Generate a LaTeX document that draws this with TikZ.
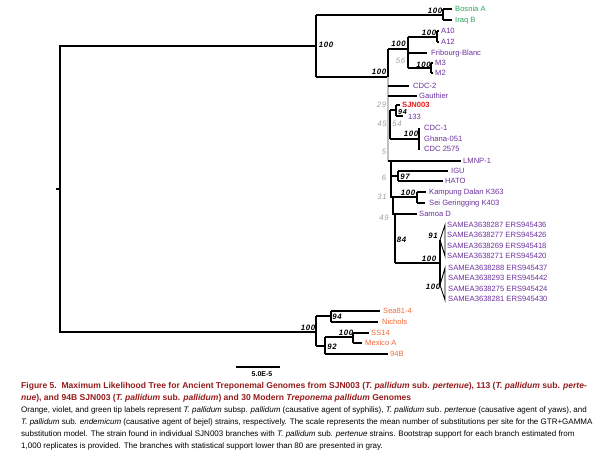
\documentclass[tikz,border=0pt]{standalone}
\usepackage{fontspec}
\setmainfont{Liberation Sans}
\newfontfamily\bsfont[LetterSpace=8]{Liberation Sans}
\definecolor{vio}{RGB}{108,48,158}
\definecolor{grn}{RGB}{40,165,90}
\definecolor{org}{RGB}{242,105,56}
\definecolor{sjn}{RGB}{228,26,28}
\definecolor{ttl}{RGB}{150,28,28}
\definecolor{sup}{RGB}{160,160,160}
\begin{document}
\begin{tikzpicture}[x=1pt,y=-1pt,
  br/.style={line width=1.3pt},
  gbr/.style={line width=1.5pt,draw=gray!50},
  wedge/.style={line width=0.9pt},
  leaf/.style={anchor=west,inner sep=0pt,font=\fontsize{7.6}{8}\selectfont,text height=5.4pt,text depth=0pt},
  lv/.style={leaf,text=vio},
  lg/.style={leaf,text=grn},
  lo/.style={leaf,text=org},
  lr/.style={leaf,text=sjn,font=\fontsize{7.6}{8}\selectfont\bfseries},
  bs/.style={inner sep=0pt,font=\bsfont\fontsize{7.8}{8}\selectfont\bfseries\itshape,text height=5.4pt,text depth=0pt},
  gs/.style={inner sep=0pt,font=\bsfont\fontsize{7.8}{8}\selectfont\itshape,text=sup,text height=5.4pt,text depth=0pt},
  captxt/.style={anchor=base west,inner sep=0pt,font=\fontsize{8}{9}\selectfont},
  ttlst/.style={captxt,text=ttl,font=\fontsize{8.55}{9}\selectfont\bfseries}]
\useasboundingbox (0,0) rectangle (600,466);
% ---------- internal node coordinates ----------
\coordinate (stub) at (56,189);
\coordinate (R) at (60,189);
\coordinate (A) at (316,46);
\coordinate (B) at (443,15);
\coordinate (C) at (388,77);
\coordinate (D) at (408,49);
\coordinate (A10n) at (437,37);
\coordinate (M3n) at (431,68);
\coordinate (SJn) at (396,110);
\coordinate (CDCn) at (419,139);
\coordinate (IGn) at (398,176);
\coordinate (KPn) at (417,197);
\coordinate (SAn) at (440,263);
\coordinate (O) at (316,332);
\coordinate (O94) at (331,316);
\coordinate (O92) at (325,346);
\coordinate (OSS) at (353,337);
% ---------- leaf labels ----------
\node[lg] (bos) at (455,9) {Bosnia A};
\node[lg] (irq) at (455,20) {Iraq B};
\node[lv] (a10) at (441,31) {A10};
\node[lv] (a12) at (441,42) {A12};
\node[lv] (fri) at (431,53) {Fribourg-Blanc};
\node[lv] (m3) at (435,63) {M3};
\node[lv] (m2) at (435,73) {M2};
\node[lv] (cdc2) at (413,86) {CDC-2};
\node[lv] (gau) at (419,96) {Gauthier};
\node[lr] (sjn) at (402,104.5) {SJN003};
\node[lv] (s133) at (408,117) {133};
\node[lv] (cdc1) at (424,128) {CDC-1};
\node[lv] (gha) at (424,139) {Ghana-051};
\node[lv] (cdc25) at (424,149) {CDC 2575};
\node[lv] (lmnp) at (463,161) {LMNP-1};
\node[lv] (igu) at (451,171) {IGU};
\node[lv] (hato) at (445,181) {HATO};
\node[lv] (kam) at (429,192) {Kampung Dalan K363};
\node[lv] (sei) at (429,203) {Sei Geringging K403};
\node[lv] (sam) at (419,214) {Samoa D};
\node[lv] (s1) at (447,225) {SAMEA3638287 ERS945436};
\node[lv] (s2) at (447,235) {SAMEA3638277 ERS945426};
\node[lv] (s3) at (447,246) {SAMEA3638269 ERS945418};
\node[lv] (s4) at (447,256) {SAMEA3638271 ERS945420};
\node[lv] (s5) at (448,268) {SAMEA3638288 ERS945437};
\node[lv] (s6) at (448,278) {SAMEA3638293 ERS945442};
\node[lv] (s7) at (448,289) {SAMEA3638275 ERS945424};
\node[lv] (s8) at (448,299) {SAMEA3638281 ERS945430};
\node[lo] (sea) at (383,311) {Sea81-4};
\node[lo] (nic) at (382,322) {Nichols};
\node[lo] (ss14) at (371,333) {SS14};
\node[lo] (mex) at (365,343) {Mexico A};
\node[lo] (b94) at (390,354) {94B};
% ---------- branches ----------
\draw[br] (stub) -- (R);
\draw[br] (A) -| (60,332) -- (O);
% top clade
\draw[br] (A |- 0,15) -- (A |- 0,77);
\draw[br] (A |- 0,15) -- (B);
\draw[br] (443,9) -- (443,20);
\draw[br] (443,9) -- (452,9);
\draw[br] (443,20) -- (452,20);
% pertenue
\draw[br] (A |- C) -- (C);
\draw[br] (388,49) -- (C);
\draw[gbr] (C) -- (388,161);
\draw[br] (388,49) -- (D);
\draw[br] (408,37) -- (408,68);
\draw[br] (408,37) -- (A10n);
\draw[br] (437,31) -- (437,42);
\draw[br] (437,31) -- (439,31); \draw[br] (437,42) -- (439,42);
\draw[br] (408,53) -- (427,53);
\draw[br] (408,68) -- (M3n);
\draw[br] (431,63) -- (431,73);
\draw[br] (431,63) -- (433,63); \draw[br] (431,73) -- (433,73);
\draw[br] (388,86) -- (409,86);
\draw[br] (388,96) -- (417,96);
\draw[br] (390,110) -- (390,139);
\draw[br] (390,110) -- (SJn);
\draw[br] (396,105) -- (396,116);
\draw[br] (396,105) -- (400,105); \draw[br] (396,116) -- (403,116);
\draw[br] (390,139) -- (CDCn);
\draw[br] (419,128) -- (419,150);
\draw[br] (388,161) -- (461,161);
\draw[br] (391,161) -- (391,197) -- (393,197) -- (393,214) -- (395,214) -- (395,263);
\draw[br] (391,176) -- (IGn);
\draw[br] (398,171) -- (398,181);
\draw[br] (398,171) -- (448,171); \draw[br] (398,181) -- (443,181);
\draw[br] (393,197) -- (KPn);
\draw[br] (417,192) -- (417,203);
\draw[br] (417,192) -- (426,192); \draw[br] (417,203) -- (425,203);
\draw[br] (395,214) -- (417,214);
\draw[br] (395,263) -- (SAn);
\draw[br] (440,240) -- (440,285);
\draw[wedge] (440,240) -- (445,225) -- (445,256) -- cycle;
\draw[wedge] (440,285) -- (445,268) -- (445,300) -- cycle;
% orange clade
\draw[br] (316,316) -- (316,346);
\draw[br] (316,316) -- (O94);
\draw[br] (331,311) -- (331,322);
\draw[br] (331,311) -- (380,311); \draw[br] (331,322) -- (378,322);
\draw[br] (316,346) -- (O92);
\draw[br] (325,337) -- (325,354);
\draw[br] (325,337) -- (OSS);
\draw[br] (353,333) -- (353,343);
\draw[br] (353,333) -- (369,333); \draw[br] (353,343) -- (362,343);
\draw[br] (325,354) -- (388,354);
% ---------- support labels ----------
\node[bs] (b1) at (326,45) {100};
\node[bs] (b2) at (435,11) {100};
\node[bs] (b3) at (379,72) {100};
\node[bs] (b4) at (398.5,44) {100};
\node[bs] (b5) at (429,33) {100};
\node[gs] (g56) at (400.5,61) {56};
\node[bs] (b6) at (423.5,65) {100};
\node[gs] (g29) at (381.5,105) {29};
\node[bs,font=\bsfont\fontsize{7.2}{8}\selectfont\bfseries\itshape] (b94) at (402.5,112) {94};
\node[gs] (g45) at (382,124) {45};
\node[gs] (g54) at (397,124) {54};
\node[bs] (b7) at (411,134) {100};
\node[gs] (g5) at (384,152) {5};
\node[gs] (g6) at (384,178) {6};
\node[bs] (b97) at (405,177) {97};
\node[gs] (g31) at (382,197) {31};
\node[bs] (b8) at (408,193) {100};
\node[gs] (g49) at (384,218) {49};
\node[bs] (b84) at (401.5,240) {84};
\node[bs] (b91) at (433,236) {91};
\node[bs] (b9) at (429,259) {100};
\node[bs] (b10) at (433,287) {100};
\node[bs] (b11) at (308,328) {100};
\node[bs] (b12) at (337,317) {94};
\node[bs] (b13) at (346,333) {100};
\node[bs] (b14) at (332,347) {92};
% ---------- scale bar ----------
\coordinate (sc1) at (236,367);
\coordinate (sc2) at (280,367);
\draw[br] (sc1) -- (sc2);
\node[bs,font=\fontsize{7}{8}\selectfont\bfseries] (scl) at (262,374) {5.0E-5};
% ---------- caption ----------
\node[ttlst] (t1) at (21,388.5) {Figure 5.\ \ Maximum Likelihood Tree for Ancient Treponemal Genomes from SJN003 (\textit{T. pallidum} sub. \textit{pertenue}), 113 (\textit{T. pallidum} sub. \textit{perte-}};
\node[ttlst] (t2) at (21,400.5) {\textit{nue}), and 94B SJN003 (\textit{T. pallidum} sub. \textit{pallidum}) and 30 Modern \textit{Treponema pallidum} Genomes};
\node[captxt] (c1) at (21,412.5) {Orange, violet, and green tip labels represent \textit{T. pallidum} subsp. \textit{pallidum} (causative agent of syphilis), \textit{T. pallidum} sub. \textit{pertenue} (causative agent of yaws), and};
\node[captxt] (c2) at (21,424.5) {\textit{T. pallidum} sub. \textit{endemicum} (causative agent of bejel) strains, respectively. The scale represents the mean number of substitutions per site for the GTR+GAMMA};
\node[captxt] (c3) at (21,436.5) {substitution model. The strain found in individual SJN003 branches with \textit{T. pallidum} sub. \textit{pertenue} strains. Bootstrap support for each branch estimated from};
\node[captxt] (c4) at (21,448.5) {1,000 replicates is provided. The branches with statistical support lower than 80 are presented in gray.};
\end{tikzpicture}
\end{document}
